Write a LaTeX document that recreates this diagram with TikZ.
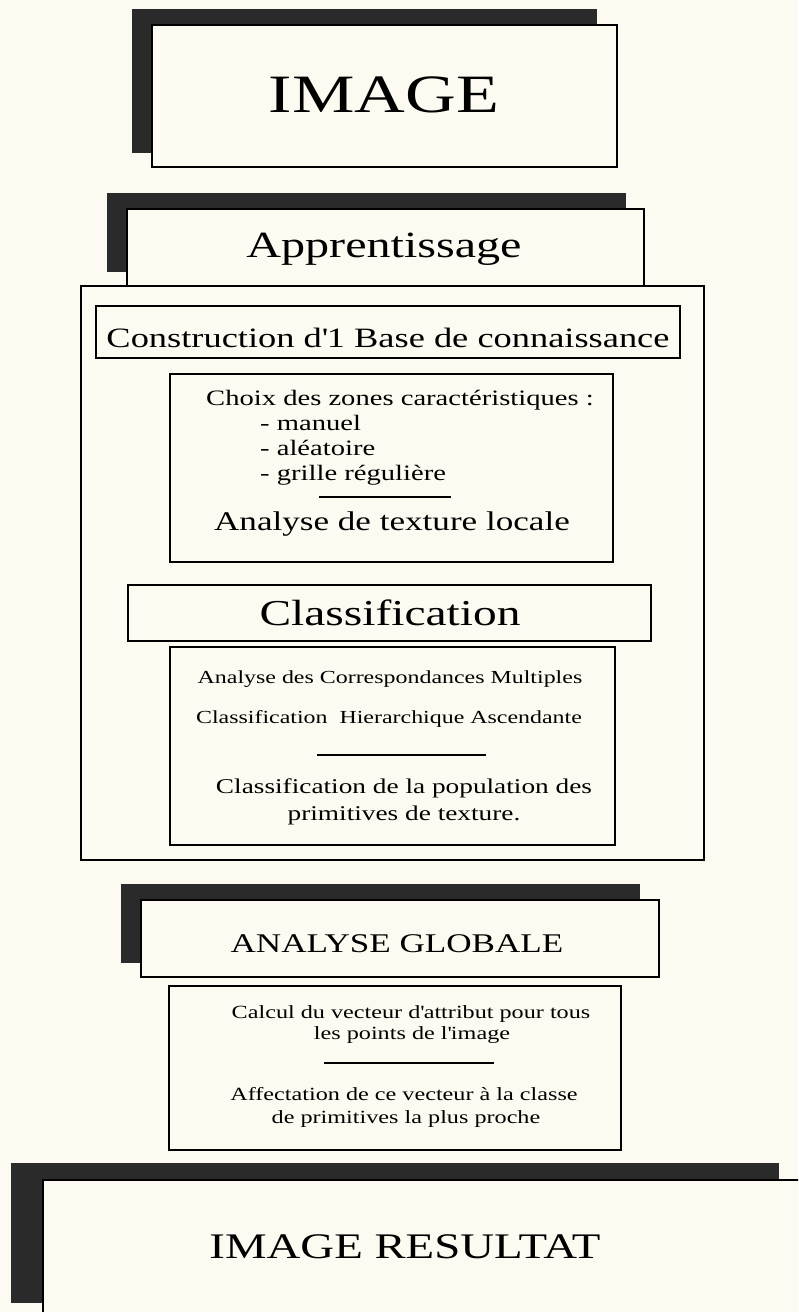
\documentclass[tikz,border=0pt]{standalone}
\usepackage{fontspec}
\setmainfont{Liberation Serif}[FakeStretch=1.3]
\definecolor{paper}{RGB}{253,251,241}
\definecolor{shade}{RGB}{42,42,42}
\newcommand\setfs[1]{\fontsize{#1pt}{#1pt}\selectfont}
\newcommand\sq{\textquotesingle}
\begin{document}
\begin{tikzpicture}[x=1pt,y=-1pt,
  shadowbox/.style={fill=shade,draw=none},
  framebox/.style={draw=black,line width=2pt,fill=paper},
  thickframe/.style={draw=black,line width=2.6pt,fill=paper},
  lbl/.style={anchor=base,inner sep=0pt},
  lbll/.style={anchor=base west,inner sep=0pt},
  rulel/.style={line width=1.8pt}]
\clip (0,0) rectangle (798,1312);
\fill[paper] (0,0) rectangle (798,1312);

% IMAGE
\path[shadowbox] (132,9) rectangle (597,153);
\path[thickframe] (152,25) rectangle (617,167);
\node[lbl] (timage) at (384,112) {\setfs{54}IMAGE};

% Apprentissage
\path[shadowbox] (107,193) rectangle (626,272);
\path[framebox] (127,209) rectangle (644,286);
\path[framebox,fill=none] (81,286) rectangle (704,860);
\node[lbl] (tappr) at (384,257) {\setfs{37}Apprentissage};

% Construction
\path[framebox] (96,306) rectangle (680,358);
\node[lbl] (tcons) at (388,347) {\setfs{28}Construction d\sq1 Base de connaissance};

% Choix box
\path[framebox] (170,374) rectangle (613,562);
\node[lbl] (tchoix) at (400,405) {\setfs{22}Choix des zones caractéristiques :};
\node[lbll] (tman) at (260,430) {\setfs{22}- manuel};
\node[lbll] (tale) at (260,455) {\setfs{22}- aléatoire};
\node[lbll] (tgri) at (260,480) {\setfs{22}- grille régulière};
\draw[rulel] (319,497) -- (451,497);
\node[lbl] (tloc) at (392,530) {\setfs{27}Analyse de texture locale};

% Classification
\path[framebox] (128,585) rectangle (651,641);
\node[lbl] (tclass) at (390,625) {\setfs{36.5}Classification};

\path[framebox] (170,647) rectangle (615,845);
\node[lbl] (tacm) at (390,683) {\setfs{18.4}Analyse des Correspondances Multiples};
\node[lbl] (tcah) at (389,723) {\setfs{18.4}Classification\ \ Hierarchique Ascendante};
\draw[rulel] (317,755) -- (486,755);
\node[lbl] (tpop1) at (404,793) {\setfs{21}Classification de la population des};
\node[lbl] (tpop2) at (404,820) {\setfs{21}primitives de texture.};

% ANALYSE GLOBALE
\path[shadowbox] (121,884) rectangle (640,963);
\path[framebox] (141,900) rectangle (659,977);
\node[lbl] (tglob) at (397,952) {\setfs{27}ANALYSE GLOBALE};

\path[framebox] (169,986) rectangle (621,1150);
\node[lbl] (tcal1) at (411,1018) {\setfs{18.6}Calcul du vecteur d\sq attribut pour tous};
\node[lbl] (tcal2) at (412,1039) {\setfs{18.6}les points de l\sq image};
\draw[rulel] (324,1063) -- (494,1063);
\node[lbl] (taff1) at (404,1100) {\setfs{18.6}Affectation de ce vecteur à la classe};
\node[lbl] (taff2) at (406,1123) {\setfs{18.6}de primitives la plus proche};

% IMAGE RESULTAT
\path[shadowbox] (11,1163) rectangle (779,1303);
\path[thickframe] (43,1180) rectangle (830,1340);
\node[lbl] (tres) at (405,1258) {\setfs{36}IMAGE RESULTAT};
\end{tikzpicture}
\end{document}
